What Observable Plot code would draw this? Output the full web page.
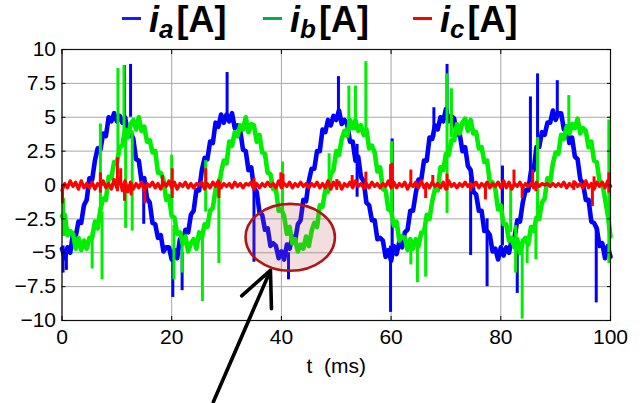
<!DOCTYPE html>
<html><head><meta charset="utf-8">
<script src="https://cdn.jsdelivr.net/npm/d3@7"></script>
<script src="https://cdn.jsdelivr.net/npm/@observablehq/plot@0.6"></script>
<style>
body{margin:0;background:#fff;width:642px;height:403px;overflow:hidden;font-family:"Liberation Sans",Arial,sans-serif}
#legend{position:relative;height:40px;width:642px}
.item{position:absolute;top:0;height:40px}
.dash{position:absolute;left:0;top:16.5px;width:19px;height:3.6px}
.txt{position:absolute;left:27px;top:0;font-weight:bold;font-size:36px;line-height:40px;white-space:nowrap;color:#000}
.txt i{font-style:italic}
.txt sub{font-size:26px;font-style:italic;vertical-align:-6px;margin-right:3px;line-height:0}
</style></head>
<body>
<div id="legend"></div>
<div id="chart"></div>
<script>
// ---- data ----
const dt = 0.5; // ms between samples
const seriesNames = ["a", "b", "c"];
const seriesColors = ["#0000ff", "#00ee00", "#ff0000"];
const legendColors = ["#1a1aff", "#00b050", "#ff0000"];
const xTicks = [0, 20, 40, 60, 80, 100];
const yTicks = [-10, -7.5, -5, -2.5, 0, 2.5, 5, 7.5, 10];

const ia = [
-4.7,-5.4,-4.6,-5.0,-3.6,-3.8,-2.7,-2.8,-1.5,-1.1,
0.5,0.4,1.8,2.7,2.6,3.8,3.6,5.0,4.7,5.3,
4.7,5.1,4.6,5.0,3.8,3.9,3.4,1.9,1.8,0.3,
0.5,-1.0,-1.3,-2.8,-2.9,-3.9,-3.7,-4.9,-4.6,-4.6,
-5.5,-4.8,-5.4,-4.0,-4.3,-3.3,-3.5,-2.2,-1.9,-0.4,
-0.4,1.1,2.0,1.9,3.2,3.1,4.6,4.3,5.2,4.6,
5.2,4.7,5.3,4.2,4.4,4.0,2.6,2.5,1.1,1.3,
-0.2,-0.5,-2.0,-2.2,-3.3,-3.2,-4.5,-4.3,-4.5,-5.4,
-4.9,-5.5,-4.4,-4.7,-3.8,-4.1,-2.9,-2.6,-1.1,-1.2,
0.3,1.2,1.2,2.5,2.5,4.1,3.9,4.8,4.4,5.1,
4.8,5.5,4.5,4.8,4.5,3.2,3.2,1.8,2.1,0.6,
0.3,-1.3,-1.5,-2.6,-2.6,-4.0,-3.9,-4.1,-5.3,-4.8,
-5.6,-4.5,-5.1,-4.2,-4.6,-3.5,-3.3,-1.9,-1.9,-0.6,
0.4,0.4,1.8,1.8,3.5,3.4,4.4,4.1,5.0,4.7,
5.6,4.7,5.1,4.9,3.7,3.8,2.5,2.8,1.4,1.1,
-0.5,-0.7,-1.9,-1.9,-3.4,-3.4,-3.7,-4.9,-4.7,-5.5,
-4.6,-5.2,-4.6,-5.0,-4.0,-3.9,-2.6,-2.7,-1.3,-0.4,
-0.4,1.0,1.1,2.8,2.8,3.9,3.7,4.6,4.6,5.5,
4.8,5.3,5.3,4.1,4.3,3.1,3.5,2.1,1.9,0.4,
0.1,-1.1,-1.1,-2.7,-2.8,-3.2,-4.5,-4.3,-5.4,-4.5,
-5.3];

const ib = [
-2.3,-2.2,-3.7,-3.4,-3.6,-4.7,-3.9,-4.8,-4.1,-4.7,
-3.9,-3.9,-2.7,-3.2,-1.8,-1.0,-1.1,0.6,0.5,1.7,
1.6,2.8,2.9,4.1,3.5,4.5,4.8,4.1,5.0,4.0,
4.3,3.2,3.3,2.4,2.5,0.9,0.9,0.4,-1.1,-0.8,
-2.3,-2.4,-3.6,-3.5,-4.3,-3.8,-4.9,-4.3,-4.0,-4.7,
-3.5,-3.9,-2.9,-3.1,-1.9,-1.7,-0.3,-0.5,0.9,1.8,
1.6,3.2,2.9,3.9,3.6,4.4,4.1,5.0,3.9,4.5,
4.4,3.2,3.7,2.4,2.3,0.9,0.8,-0.3,-0.3,-1.9,
-1.8,-2.3,-3.6,-3.1,-4.3,-4.0,-4.9,-4.4,-4.7,-3.8,
-4.5,-3.4,-2.8,-3.1,-1.5,-1.6,-0.4,-0.5,0.8,1.1,
2.5,2.2,3.4,4.0,3.6,4.8,4.2,4.8,4.0,4.4,
3.7,4.1,2.7,2.9,2.4,1.0,1.3,-0.3,-0.4,-1.8,
-1.9,-3.0,-2.7,-4.1,-3.8,-3.9,-4.8,-4.0,-4.7,-4.0,
-4.5,-3.5,-3.5,-2.2,-2.5,-1.2,-0.3,-0.4,1.3,1.1,
2.3,2.2,3.3,3.3,4.5,3.8,4.6,4.9,4.0,4.8,
3.8,3.9,2.7,2.8,1.7,1.8,0.2,0.2,-0.3,-1.8,
-1.5,-2.9,-2.9,-4.1,-3.9,-4.6,-4.0,-5.0,-4.2,-3.9,
-4.4,-3.1,-3.4,-2.4,-2.5,-1.3,-1.0,0.5,0.2,1.6,
2.4,2.3,3.7,3.4,4.3,3.8,4.5,4.2,4.9,3.8,
4.2,4.0,2.8,3.2,1.8,1.7,0.3,0.1,-1.0,-2.2,
-3.8];

const ic = [
-0.4,0.1,-0.2,0.3,-0.1,0.2,-0.3,0.3,-0.2,0.1,-0.2,
0.2,-0.3,0.1,-0.1,0.3,-0.2,0.1,-0.3,0.4,-0.2,
0.5,-0.4,0.3,-0.5,0.2,-0.3,0.1,-0.2,0.2,-0.4,
0.1,-0.1,0.2,-0.2,0.1,-0.3,0.2,-0.1,0.3,-0.2,
0.2,-0.3,0.1,-0.1,0.2,-0.2,0.1,-0.2,0.1,0.0,
0.2,-0.3,0.1,-0.2,0.2,-0.1,0.3,-0.2,0.1,-0.1,
0.1,-0.2,0.2,-0.1,0.1,-0.2,0.1,0.0,0.2,-0.3,
0.1,-0.2,0.1,-0.1,0.2,-0.1,0.1,-0.2,0.3,-0.2,
0.1,-0.1,0.2,-0.2,0.1,-0.1,0.2,-0.1,0.1,-0.2,
0.1,-0.1,0.2,-0.2,0.1,-0.2,0.3,-0.3,0.2,-0.1,
0.2,-0.3,0.1,-0.1,0.2,-0.2,0.3,-0.1,0.1,-0.2,
0.1,-0.2,0.2,-0.1,0.1,-0.2,0.1,-0.1,0.3,-0.2,
0.2,-0.2,0.1,-0.1,0.2,-0.3,0.1,-0.1,0.2,-0.2,
0.3,-0.2,0.1,-0.2,0.2,-0.1,0.1,-0.2,0.2,-0.3,
0.3,-0.1,0.1,-0.2,0.1,-0.1,0.2,-0.1,0.1,-0.1,
0.2,-0.2,0.1,-0.1,0.2,-0.2,0.1,-0.1,0.2,-0.2,
0.3,-0.2,0.2,-0.3,0.1,-0.1,0.2,-0.2,0.1,-0.1,
0.1,-0.2,0.2,-0.1,0.1,0.0,0.1,-0.1,0.1,-0.1,
0.1,-0.1,0.2,-0.2,0.1,-0.1,0.2,-0.1,0.1,-0.2,
0.3,-0.2,0.1,-0.3,0.2,-0.1,0.2,-0.2,0.3,-0.1];

// short transients (time in ms, from value, to value)
const iaSpikeT    = [0.2, 0.8, 11.4, 12.5, 14.9, 20.2, 21.9, 30.1, 35.0, 41.3, 50.4, 53.8, 59.9, 60.2, 67.8, 70.2, 74.5, 77.5, 80.3, 83.0, 85.4, 86.7, 90.3, 97.4];
const iaSpikeFrom = [-4.5, -4.8, 5.0, 5.0, 0.5, -5.3, -5.0, 5.0, 0.0, -5.0, 5.0, 3.0, -4.5, -4.5, 3.5, 5.0, 0.5, -2.5, -4.5, -4.0, 1.0, 2.5, 5.0, -3.0];
const iaSpikeTo   = [-6.5, -6.3, 8.8, 8.9, -2.9, -8.3, -7.8, 8.3, -5.7, -7.0, 8.0, -0.9, -9.4, 3.4, 5.7, 8.9, -5.2, -7.5, 1.4, -8.0, 6.5, 8.2, 7.7, -8.7];

const ibSpikeT    = [0.3, 5.5, 7.0, 7.3, 10.2, 11.3, 11.6, 12.8, 20.0, 20.4, 21.9, 25.6, 26.2, 28.6, 40.2, 48.7, 52.3, 53.5, 55.4, 60.1, 63.6, 64.8, 66.3, 70.2, 71.0, 81.8, 82.7, 83.9, 84.8, 86.4, 86.7, 92.4, 99.7];
const ibSpikeFrom = [-1.0, -3.5, -1.5, -2.0, 2.5, 3.5, 4.0, 4.0, -2.0, -3.0, -4.0, -3.5, -2.0, 0.5, -2.5, -0.5, 4.0, 4.0, 4.0, -2.5, -4.0, -4.0, -3.0, -2.1, 3.5, -3.5, -3.0, -4.0, -4.0, -3.0, -2.5, 4.0, -5.8];
const ibSpikeTo   = [-3.8, -6.2, 4.5, -7.0, 8.6, 8.8, -3.2, -3.4, 2.2, -7.0, -6.5, -8.6, 1.8, -5.8, 1.7, 2.3, 7.3, 7.3, 9.1, 3.2, -5.9, -7.2, -6.8, 8.2, 7.1, 0.0, -6.5, -9.9, -5.8, -5.5, 3.5, 6.6, 4.8];

const icSpikeT    = [0.1, 7.0, 10.1, 10.7, 11.4, 12.6, 15.1, 18.3, 20.1, 26.2, 28.6, 35.0, 39.9, 40.3, 50.1, 52.9, 55.4, 59.9, 60.2, 63.6, 66.3, 67.6, 70.2, 74.5, 77.2, 82.4, 83.9, 85.8, 86.4, 93.3, 96.7, 97.0, 99.7];
const icSpikeFrom = [0, -0.6, -0.5, 0, 0, 0, 0, 0, -1.0, 0, 0, -0.4, 0, 0, -0.4, 0, -0.3, 0, 0, 0, 0, 0, -0.4, 0, 0, 0, 0, 0, 0, -0.4, 0, 0, -0.6];
const icSpikeTo   = [-1.4, 0.9, 2.0, 1.2, -1.2, -0.8, -1.4, 0.7, 1.2, 1.2, -1.0, 0.5, 0.9, 0.8, 0.4, 0.7, 0.95, 1.5, 1.6, 1.1, -1.0, 0.7, 0.8, -0.5, -1.1, 1.1, -1.0, 1.1, -0.5, 0.3, -1.6, 0.6, 0.9];

// annotation (data coordinates)
const highlight = {cx: 41.7, cy: -3.9, rx: 8.15, ry: 2.47};
const pointer = {x1: 27.6, y1: -16, x2: 38.0, y2: -6.3};

// ---- build tables ----
const toRows = (vals) => vals.map((v, i) => ({t: i * dt, v}));
const toSpikes = (T, F, E) => T.map((t, i) => ({t, from: F[i], to: E[i]}));
const lines = [ia, ib, ic].map(toRows);
const spikes = [
  toSpikes(iaSpikeT, iaSpikeFrom, iaSpikeTo),
  toSpikes(ibSpikeT, ibSpikeFrom, ibSpikeTo),
  toSpikes(icSpikeT, icSpikeFrom, icSpikeTo)
];
const lineWidths = [4.6, 4.6, 3.4];

// ---- legend ----
const legendLeft = [122, 263, 413];
const legend = document.getElementById("legend");
seriesNames.forEach((n, k) => {
  const item = document.createElement("div");
  item.className = "item";
  item.style.left = legendLeft[k] + "px";
  item.innerHTML = `<span class="dash" style="background:${legendColors[k]}"></span><span class="txt"><i>i</i><sub>${n}</sub>[A]</span>`;
  legend.appendChild(item);
});

// ---- chart ----
const fmtY = d => d < 0 ? "\u2212" + Math.abs(d) : String(d);
const marks = [
  Plot.gridX(xTicks, {stroke: "#a8a8a8", strokeOpacity: 1, strokeWidth: 1}),
  Plot.gridY(yTicks, {stroke: "#a8a8a8", strokeOpacity: 1, strokeWidth: 1})
];
[0, 1, 2].forEach(k => {
  marks.push(Plot.line(lines[k], {x: "t", y: "v", stroke: seriesColors[k], strokeWidth: lineWidths[k], strokeLinejoin: "round"}));
  marks.push(Plot.ruleX(spikes[k], {x: "t", y1: "from", y2: "to", stroke: seriesColors[k], strokeWidth: 3}));
});
marks.push(
  Plot.frame({stroke: "#111", strokeWidth: 1.2}),
  Plot.axisX(xTicks, {anchor: "bottom", tickSize: 0, tickPadding: 9, tickFormat: d => String(d), label: null}),
  Plot.axisX(xTicks, {anchor: "bottom", tickSize: -4, tickFormat: () => "", label: null}),
  Plot.axisX(xTicks, {anchor: "top", tickSize: -4, tickFormat: () => "", label: null}),
  Plot.axisY(yTicks, {anchor: "left", tickSize: 0, tickPadding: 6, tickFormat: fmtY, label: null}),
  Plot.axisY(yTicks, {anchor: "left", tickSize: -4, tickFormat: () => "", label: null}),
  Plot.axisY(yTicks, {anchor: "right", tickSize: -4, tickFormat: () => "", label: null}),
  Plot.text(["t\u00a0\u00a0(ms)"], {frameAnchor: "bottom", dy: 52, fontSize: 21, fill: "#000"}),
  Plot.arrow([pointer], {x1: "x1", y1: "y1", x2: "x2", y2: "y2", stroke: "#000", strokeWidth: 3.6, headLength: 16, headAngle: 50, clip: false})
);

const plot = Plot.plot({
  width: 642, height: 363,
  marginTop: 9, marginBottom: 83, marginLeft: 61.5, marginRight: 32,
  x: {domain: [0, 100], label: null},
  y: {domain: [-10, 10], label: null},
  style: {fontFamily: "'Liberation Sans', Arial, sans-serif", fontSize: "21px", color: "#000", background: "#fff", overflow: "visible"},
  marks
});

// highlight ellipse positioned through the plot's own scales
const sx = plot.scale("x"), sy = plot.scale("y");
const cx = sx.apply(highlight.cx), cy = sy.apply(highlight.cy);
const rxp = Math.abs(sx.apply(highlight.cx + highlight.rx) - cx);
const ryp = Math.abs(sy.apply(highlight.cy + highlight.ry) - cy);
const ell = document.createElementNS("http://www.w3.org/2000/svg", "ellipse");
ell.setAttribute("cx", cx); ell.setAttribute("cy", cy);
ell.setAttribute("rx", rxp); ell.setAttribute("ry", ryp);
ell.setAttribute("fill", "rgba(190,90,90,0.2)");
ell.setAttribute("stroke", "#b01515");
ell.setAttribute("stroke-width", "2.6");
plot.insertBefore(ell, plot.lastChild);
document.getElementById("chart").appendChild(plot);
</script>
</body></html>
